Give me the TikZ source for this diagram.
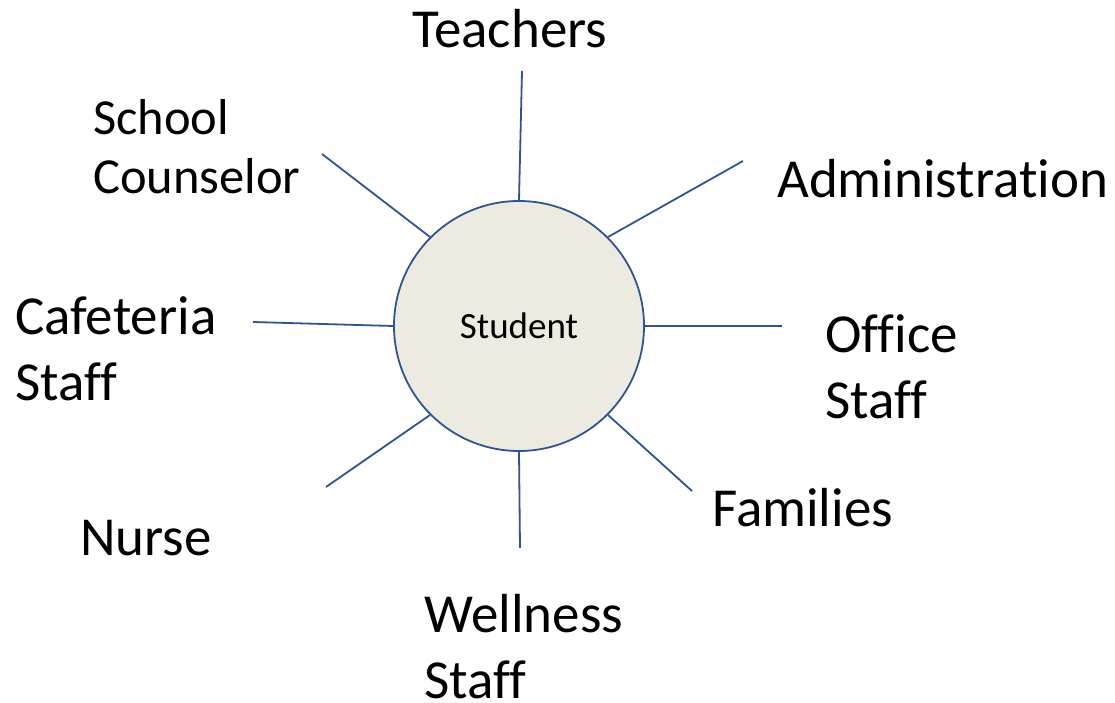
\documentclass[tikz,border=0pt]{standalone}
\usepackage{fontspec}
\setmainfont{Carlito}[Ligatures={NoCommon}]
\definecolor{linecol}{HTML}{2F5590}
\definecolor{circfill}{HTML}{EDEBE1}
\tikzset{
  spoke/.style={draw=linecol, line width=1.8pt},
  lbl/.style={anchor=base west, inner sep=0pt, align=left, font=\fontsize{55}{66}\selectfont},
  lblsm/.style={anchor=base west, inner sep=0pt, align=left, font=\fontsize{50.5}{59}\selectfont},
}
\begin{document}
\begin{tikzpicture}[x=1pt,y=-1pt]
\useasboundingbox (0,0) rectangle (1115,703);
\node[circle, draw=linecol, line width=1.8pt, fill=circfill, minimum size=250pt, inner sep=0pt,
      font=\fontsize{37}{42}\selectfont] (c) at (519,326) {Student};
\coordinate (tT) at (522,71);
\coordinate (tA) at (743,161);
\coordinate (tO) at (782,326);
\coordinate (tF) at (692,491);
\coordinate (tW) at (520,548);
\coordinate (tN) at (326,487);
\coordinate (tC) at (253,322);
\coordinate (tS) at (322,154);
\draw[spoke] (c.90) -- (tT);
\draw[spoke] (c.45) -- (tA);
\draw[spoke] (c.0) -- (tO);
\draw[spoke] (c.-45) -- (tF);
\draw[spoke] (c.-90) -- (tW);
\draw[spoke] (c.-135) -- (tN);
\draw[spoke] (c.180) -- (tC);
\draw[spoke] (c.135) -- (tS);
\node[lbl] (teach) at (412,48) {Teachers};
\node[lblsm] (couns) at (93,194) {School\\Counselor};
\node[lbl] (admin) at (777,198) {Administration};
\node[lbl] (cafe) at (15,400) {Cafeteria\\Staff};
\node[lbl] (office) at (825,418) {Office\\Staff};
\node[lbl] (fam) at (712,526) {Families};
\node[lbl] (nurse) at (80,555) {Nurse};
\node[lbl] (well) at (424,698) {Wellness\\Staff};
\end{tikzpicture}
\end{document}
